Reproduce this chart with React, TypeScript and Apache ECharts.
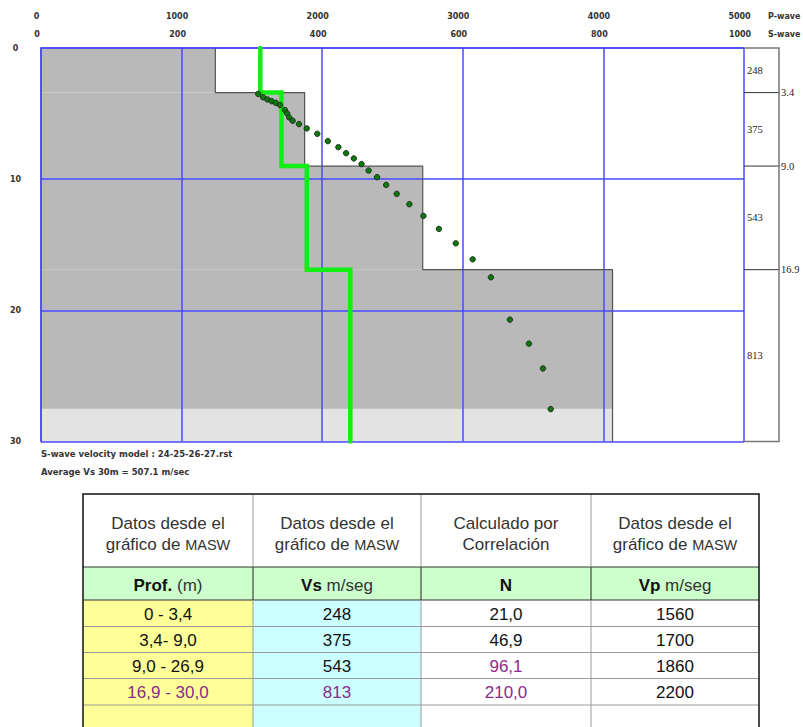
import React, { useEffect, useRef } from 'react';
import * as echarts from 'echarts';

// ---- model data ----
const layerTops = [0, 3.4, 9.0, 16.9];
const layerBottoms = [3.4, 9.0, 16.9, 30.0];
const vsModel = [248, 375, 543, 813];
const vpModel = [1560, 1710, 1890, 2200];
const investigationDepth = 27.5;
const maxDepth = 30;

// dispersion curve points (S-wave velocity, depth)
const dispersionVs = [309, 316, 322, 328, 334, 340, 347, 350, 353, 358, 367, 378, 393, 408, 423, 434, 445, 456, 466, 478, 491, 506, 524, 544, 566, 590, 614, 640, 667, 694, 714, 725];
const dispersionDepth = [3.5, 3.76, 3.92, 4.05, 4.18, 4.35, 4.73, 4.98, 5.29, 5.55, 5.8, 6.13, 6.54, 7.1, 7.56, 8.02, 8.42, 8.85, 9.34, 9.85, 10.44, 11.12, 11.91, 12.8, 13.79, 14.89, 16.11, 17.48, 20.71, 22.54, 24.43, 27.53];

const noteModel = 'S-wave velocity model : 24-25-26-27.rst';
const noteAverage = 'Average Vs 30m = 507.1 m/sec';

// ---- table data ----
const headerLine1 = ['Datos desde el', 'Datos desde el', 'Calculado por', 'Datos desde el'];
const headerLine2Main = ['gráfico de ', 'gráfico de ', 'Correlación', 'gráfico de '];
const headerLine2Small = ['MASW', 'MASW', '', 'MASW'];
const subHeaderBold = ['Prof.', 'Vs', 'N', 'Vp'];
const subHeaderRegular = [' (m)', ' m/seg', '', ' m/seg'];
const depthRanges = ['0 - 3,4', '3,4- 9,0', '9,0 - 26,9', '16,9 - 30,0'];
const vsTable = ['248', '375', '543', '813'];
const nTable = ['21,0', '46,9', '96,1', '210,0'];
const vpTable = ['1560', '1700', '1860', '2200'];

// ---- styles / layout ----
const BLUE = '#4a4aff';
const PURPLE = '#8a2a8a';
const purpleCells = [[2, 2], [3, 0], [3, 1], [3, 2]];
const colX = [83, 253, 421, 591, 759];
const rowY = [494, 567, 600, 626.5, 652.5, 678.5, 705, 745];
const colFill = ['#ffff99', '#ccffff', '#ffffff', '#ffffff'];
const SANS = '"Liberation Sans", Arial, sans-serif';
const AXFONT = '"DejaVu Sans", Verdana, sans-serif';

function buildTable(): any[] {
  const els: any[] = [];
  const top = rowY[0];
  const bottom = rowY[rowY.length - 1];
  for (let c = 0; c < 4; c++) {
    const x = colX[c];
    const w = colX[c + 1] - colX[c];
    els.push({ type: 'rect', shape: { x, y: rowY[0], width: w, height: rowY[1] - rowY[0] }, style: { fill: '#ffffff' } });
    els.push({ type: 'rect', shape: { x, y: rowY[1], width: w, height: rowY[2] - rowY[1] }, style: { fill: '#ccffcc' } });
    els.push({ type: 'rect', shape: { x, y: rowY[2], width: w, height: bottom - rowY[2] }, style: { fill: colFill[c] } });
  }
  for (let r = 1; r < rowY.length - 1; r++) {
    const dark = r === 1 || r === 2;
    els.push({ type: 'line', shape: { x1: colX[0], y1: rowY[r], x2: colX[4], y2: rowY[r] }, style: { stroke: dark ? '#333' : '#9a9a9a', lineWidth: 1 } });
  }
  for (let c = 1; c < 4; c++) {
    els.push({ type: 'line', shape: { x1: colX[c], y1: top, x2: colX[c], y2: rowY[1] }, style: { stroke: '#9a9a9a', lineWidth: 1 } });
    els.push({ type: 'line', shape: { x1: colX[c], y1: rowY[1], x2: colX[c], y2: rowY[2] }, style: { stroke: '#222', lineWidth: 1 } });
    els.push({ type: 'line', shape: { x1: colX[c], y1: rowY[2], x2: colX[c], y2: bottom }, style: { stroke: '#9a9a9a', lineWidth: 1 } });
  }
  els.push({ type: 'polyline', shape: { points: [[colX[0], bottom], [colX[0], top], [colX[4], top], [colX[4], bottom]] }, style: { stroke: '#111', lineWidth: 1.5, fill: null } });

  for (let c = 0; c < 4; c++) {
    const cx = (colX[c] + colX[c + 1]) / 2;
    els.push({ type: 'text', x: cx, y: 523.5, style: { text: headerLine1[c], fill: '#333', fontSize: 17, fontFamily: SANS, align: 'center', verticalAlign: 'middle' } });
    const l2 = headerLine2Small[c] ? `{m|${headerLine2Main[c]}}{s|${headerLine2Small[c]}}` : `{m|${headerLine2Main[c]}}`;
    els.push({ type: 'text', x: cx, y: 544.5, style: { text: l2, align: 'center', verticalAlign: 'middle', rich: { m: { fill: '#333', fontSize: 17, fontFamily: SANS }, s: { fill: '#333', fontSize: 14.5, fontFamily: SANS } } } });
    const sub = subHeaderRegular[c] ? `{b|${subHeaderBold[c]}}{r|${subHeaderRegular[c]}}` : `{b|${subHeaderBold[c]}}`;
    els.push({ type: 'text', x: cx, y: 585, style: { text: sub, align: 'center', verticalAlign: 'middle', rich: { b: { fill: '#111', fontSize: 17, fontWeight: 'bold', fontFamily: SANS }, r: { fill: '#333', fontSize: 17, fontFamily: SANS } } } });
  }
  const cols = [depthRanges, vsTable, nTable, vpTable];
  for (let r = 0; r < depthRanges.length; r++) {
    const cy = (rowY[r + 2] + rowY[r + 3]) / 2 + 1;
    for (let c = 0; c < 4; c++) {
      const cx = (colX[c] + colX[c + 1]) / 2;
      const purple = purpleCells.some(([pr, pc]) => pr === r && pc === c);
      els.push({ type: 'text', x: cx, y: cy, style: { text: cols[c][r], fill: purple ? PURPLE : '#111', fontSize: 17, fontFamily: SANS, align: 'center', verticalAlign: 'middle' } });
    }
  }
  return els;
}

export default function App() {
  const ref = useRef<HTMLDivElement>(null);
  useEffect(() => {
    if (!ref.current) return;
    const chart = echarts.init(ref.current, null, { renderer: 'svg' });

    const layerData = vsModel.map((v, i) => [v, layerTops[i], layerBottoms[i]]);
    const outline: number[][] = [];
    vsModel.forEach((v, i) => { outline.push([v, layerTops[i]]); outline.push([v, layerBottoms[i]]); });
    const vpLine: number[][] = [];
    vpModel.forEach((v, i) => { vpLine.push([v, layerTops[i]]); vpLine.push([v, layerBottoms[i]]); });
    const dispersion = dispersionVs.map((v, i) => [v, dispersionDepth[i]]);
    const boxLayers = vsModel.map((v, i) => [layerTops[i], layerBottoms[i], v]);

    const axLabel = { fontSize: 8, fontWeight: 'bold', fontFamily: AXFONT, color: '#333', formatter: (v: number) => String(v) };

    const option: any = {
      animation: false,
      backgroundColor: '#ffffff',
      grid: [
        { left: 41, top: 48, width: 703, height: 393.5, show: false },
        { left: 744, top: 48, width: 35, height: 393.5, show: false },
      ],
      xAxis: [
        {
          gridIndex: 0, type: 'value', min: 0, max: 1000, interval: 200, position: 'top', z: 3,
          axisLine: { show: true, lineStyle: { color: BLUE, width: 1.5 } },
          axisTick: { show: false },
          axisLabel: { ...axLabel, margin: 13.3, verticalAlign: 'middle', align: 'center', padding: [0, 8, 0, 0] },
          splitLine: { show: true, lineStyle: { color: BLUE, width: 1.5 } },
        },
        {
          gridIndex: 0, type: 'value', min: 0, max: 5000, interval: 1000, position: 'top', z: 3,
          axisLine: { show: false }, axisTick: { show: false },
          axisLabel: { ...axLabel, margin: 32, verticalAlign: 'middle', align: 'center', padding: [0, 9, 0, 0] },
          splitLine: { show: false },
        },
        { gridIndex: 1, type: 'value', min: 0, max: 1, show: false },
      ],
      yAxis: [
        {
          gridIndex: 0, type: 'value', min: 0, max: maxDepth, interval: 10, inverse: true, z: 3,
          axisLine: { show: true, lineStyle: { color: BLUE, width: 1.5 } },
          axisTick: { show: false },
          axisLabel: { ...axLabel, margin: 25.5, align: 'center' },
          splitLine: { show: true, lineStyle: { color: BLUE, width: 1.5 } },
        },
        { gridIndex: 1, type: 'value', min: 0, max: maxDepth, inverse: true, show: false },
      ],
      series: [
        {
          type: 'custom', xAxisIndex: 0, yAxisIndex: 0, z: 1, silent: true,
          data: layerData,
          encode: { x: 0, y: [1, 2] },
          renderItem: (params: any, api: any) => {
            const p0 = api.coord([0, api.value(1)]);
            const p1 = api.coord([api.value(0), api.value(2)]);
            return { type: 'rect', shape: { x: p0[0], y: p0[1], width: p1[0] - p0[0], height: p1[1] - p0[1] }, style: { fill: '#b9b9b9' } };
          },
        },
        {
          type: 'custom', xAxisIndex: 0, yAxisIndex: 0, z: 1, silent: true,
          data: [[vsModel[vsModel.length - 1], investigationDepth, maxDepth]],
          encode: { x: 0, y: [1, 2] },
          renderItem: (params: any, api: any) => {
            const p0 = api.coord([0, api.value(1)]);
            const p1 = api.coord([api.value(0), api.value(2)]);
            return { type: 'rect', shape: { x: p0[0], y: p0[1], width: p1[0] - p0[0], height: p1[1] - p0[1] }, style: { fill: '#e3e3e3' } };
          },
        },
        {
          type: 'line', xAxisIndex: 0, yAxisIndex: 0, z: 4, data: outline, symbol: 'none', silent: true,
          lineStyle: { color: '#555', width: 1.2 },
        },
        {
          type: 'line', xAxisIndex: 1, yAxisIndex: 0, z: 5, data: vpLine, symbol: 'none', silent: true, clip: false,
          lineStyle: { color: '#11ee11', width: 4.5, cap: 'round', join: 'miter' },
        },
        {
          type: 'scatter', xAxisIndex: 0, yAxisIndex: 0, z: 6, data: dispersion, symbolSize: 5.5, silent: true,
          itemStyle: { color: '#0b7a0b', borderColor: '#1a1a1a', borderWidth: 0.8, opacity: 1 },
        },
        {
          type: 'custom', xAxisIndex: 2, yAxisIndex: 1, z: 4, silent: true, clip: false,
          data: boxLayers,
          encode: { y: [0, 1] },
          renderItem: (params: any, api: any) => {
            const top = api.value(0);
            const bot = api.value(1);
            const vs = api.value(2);
            const pTop = api.coord([0, top]);
            const pBot = api.coord([1, bot]);
            const x0 = pTop[0];
            const x1 = pBot[0];
            const children: any[] = [
              { type: 'text', x: x0 + 3, y: (pTop[1] + pBot[1]) / 2, style: { text: String(vs), fill: '#222', fontSize: 10.5, fontFamily: '"Liberation Serif", "Times New Roman", serif', align: 'left', verticalAlign: 'middle' } },
            ];
            if (bot < maxDepth) {
              children.push({ type: 'line', shape: { x1: x0, y1: pBot[1], x2: x1 + 1, y2: pBot[1] }, style: { stroke: '#333', lineWidth: 1 } });
              children.push({ type: 'text', x: x1 + 2, y: pBot[1], style: { text: bot.toFixed(1), fill: '#222', fontSize: 10.5, fontFamily: '"Liberation Serif", "Times New Roman", serif', align: 'left', verticalAlign: 'middle' } });
            }
            return { type: 'group', children };
          },
        },
        {
          type: 'custom', xAxisIndex: 2, yAxisIndex: 1, z: 4, silent: true, clip: false,
          data: [[0, maxDepth]],
          encode: { y: [0, 1] },
          renderItem: (params: any, api: any) => {
            const a = api.coord([0, api.value(0)]);
            const b = api.coord([1, api.value(1)]);
            return { type: 'polyline', shape: { points: [[a[0], a[1]], [b[0], a[1]], [b[0], b[1]], [a[0], b[1]]] }, style: { stroke: '#777', lineWidth: 1.5, fill: null } };
          },
        },
      ],
      graphic: [
        { type: 'text', x: 768, y: 16, style: { text: 'P-wave', fill: '#333', fontSize: 8, fontWeight: 'bold', fontFamily: AXFONT, align: 'left', verticalAlign: 'middle' } },
        { type: 'text', x: 768, y: 34.7, style: { text: 'S-wave', fill: '#333', fontSize: 8, fontWeight: 'bold', fontFamily: AXFONT, align: 'left', verticalAlign: 'middle' } },
        { type: 'text', x: 41, y: 453.5, style: { text: noteModel, fill: '#333', fontSize: 8.5, fontWeight: 'bold', fontFamily: AXFONT, align: 'left', verticalAlign: 'middle' } },
        { type: 'text', x: 41, y: 471.7, style: { text: noteAverage, fill: '#333', fontSize: 8.5, fontWeight: 'bold', fontFamily: AXFONT, align: 'left', verticalAlign: 'middle' } },
        ...buildTable(),
      ],
    };
    chart.setOption(option);
    return () => chart.dispose();
  }, []);
  return <div ref={ref} style={{ position: 'absolute', left: 0, top: 0, width: 803, height: 727 }} />;
}
